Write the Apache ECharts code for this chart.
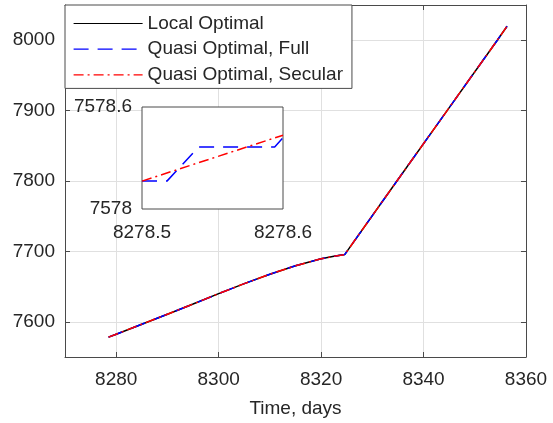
<!DOCTYPE html>
<html><head><meta charset="utf-8">
<script src="https://cdn.jsdelivr.net/npm/echarts@6/dist/echarts.min.js"></script>
<style>html,body{margin:0;padding:0;background:#fff}#c{width:553px;height:423px}</style>
</head><body><div id="c"></div>
<script>
// ---- data ----
const xTicks = [8280, 8300, 8320, 8340, 8360];
const yTicks = [7600, 7700, 7800, 7900, 8000];
const timeDays = [8278.5, 8280, 8285, 8290, 8295, 8300, 8305, 8310, 8315, 8320, 8322.5, 8324.6, 8334.8, 8344.6, 8354.4, 8356.3];
const localOptimal = [7578.2, 7582.4, 7596.6, 7610.8, 7625.2, 7640, 7654.2, 7667.6, 7679.6, 7689.5, 7693, 7695.5, 7800, 7900, 8000, 8019.8];
const quasiFull    = [7578.2, 7582.4, 7596.6, 7610.8, 7625.2, 7640, 7654.2, 7667.6, 7679.6, 7689.5, 7693, 7695.5, 7800, 7900, 8000, 8019.8];
const quasiSecular = [7578.2, 7582.4, 7596.6, 7610.8, 7625.2, 7640, 7654.2, 7667.6, 7679.6, 7689.5, 7693, 7695.5, 7800, 7900, 8000, 8019.8];
const insetFullX = [8278.5, 8278.5177, 8278.5402, 8278.5941, 8278.6];
const insetFullY = [7578.164, 7578.164, 7578.365, 7578.365, 7578.42];
const insetSecularX = [8278.5, 8278.6];
const insetSecularY = [7578.164, 7578.434];
const insetXTicks = [8278.5, 8278.6];
const insetXTickLabels = ['8278.5', '8278.6'];
const insetYTicks = [7578, 7578.6];
const insetYTickLabels = ['7578', '7578.6'];
const seriesNames = ['Local Optimal', 'Quasi Optimal, Full', 'Quasi Optimal, Secular'];

// ---- styling ----
const FONT = 'Liberation Sans, Arial, sans-serif';
const TXT = '#262626';
const AX = '#4a4a4a';
const FS = 19;
const pair = (xs, ys) => xs.map((x, i) => [x, ys[i]]);
const labelOf = (ticks, labels) => v => {
  let k = 0, best = Infinity;
  ticks.forEach((t, i) => { const d = Math.abs(t - v); if (d < best) { best = d; k = i; } });
  return labels[k];
};
const plain = v => String(Math.round(v));

const chart = echarts.init(document.getElementById('c'), null, {renderer: 'canvas'});
const mainAxisCommon = {
  axisLine: {show: true, onZero: false, lineStyle: {color: AX, width: 1}},
};
chart.setOption({
  animation: false,
  backgroundColor: '#fff',
  textStyle: {fontFamily: FONT},
  grid: [
    {left: 65, right: 27, top: 5, bottom: 64, containLabel: false},
    {left: 142, top: 107, width: 141, height: 102, show: true, backgroundColor: '#fff',
     borderColor: AX, borderWidth: 1, z: 3}
  ],
  legend: {
    data: seriesNames, orient: 'vertical', left: 65, top: 5,
    padding: [9, 9, 4, 8], itemWidth: 69, itemHeight: 20, itemGap: 6.7,
    borderColor: AX, borderWidth: 1, backgroundColor: '#fff', borderRadius: 0,
    itemStyle: {color: 'rgba(0,0,0,0)', borderWidth: 0, opacity: 0},
    lineStyle: {width: 1.2},
    textStyle: {fontSize: FS, color: TXT, fontFamily: FONT}, z: 10
  },
  xAxis: [
    Object.assign({}, mainAxisCommon, {
      type: 'value', gridIndex: 0, position: 'bottom', min: 8270, max: 8360,
      axisTick: {show: true, inside: true, length: 5, lineStyle: {color: AX}, customValues: xTicks},
      axisLabel: {customValues: xTicks, formatter: plain, fontSize: FS, color: TXT, fontFamily: FONT, margin: 13},
      splitLine: {show: true, lineStyle: {color: '#e0e0e0', width: 1}},
      name: 'Time, days', nameLocation: 'middle', nameGap: 42,
      nameTextStyle: {fontSize: FS, color: TXT, fontFamily: FONT}
    }),
    Object.assign({}, mainAxisCommon, {
      type: 'value', gridIndex: 0, position: 'top', min: 8270, max: 8360,
      axisTick: {show: true, inside: true, length: 5, lineStyle: {color: AX}, customValues: xTicks},
      axisLabel: {show: false}, splitLine: {show: false}
    }),
    {type: 'value', gridIndex: 1, min: 8278.5, max: 8278.6, z: 4,
     axisLine: {show: false}, axisTick: {show: false}, splitLine: {show: false},
     axisLabel: {customValues: insetXTicks, formatter: labelOf(insetXTicks, insetXTickLabels),
                 fontSize: FS, color: TXT, fontFamily: FONT, margin: 14}}
  ],
  yAxis: [
    Object.assign({}, mainAxisCommon, {
      type: 'value', gridIndex: 0, position: 'left', min: 7550, max: 8050,
      axisTick: {show: true, inside: true, length: 5, lineStyle: {color: AX}, customValues: yTicks},
      axisLabel: {customValues: yTicks, formatter: plain, fontSize: FS, color: TXT, fontFamily: FONT, margin: 10},
      splitLine: {show: true, lineStyle: {color: '#e0e0e0', width: 1}}
    }),
    Object.assign({}, mainAxisCommon, {
      type: 'value', gridIndex: 0, position: 'right', min: 7550, max: 8050,
      axisTick: {show: true, inside: true, length: 5, lineStyle: {color: AX}, customValues: yTicks},
      axisLabel: {show: false}, splitLine: {show: false}
    }),
    {type: 'value', gridIndex: 1, min: 7578, max: 7578.6, z: 4,
     axisLine: {show: false}, axisTick: {show: false}, splitLine: {show: false},
     axisLabel: {customValues: insetYTicks, formatter: labelOf(insetYTicks, insetYTickLabels),
                 fontSize: FS, color: TXT, fontFamily: FONT, margin: 10}}
  ],
  series: [
    {name: seriesNames[0], type: 'line', xAxisIndex: 0, yAxisIndex: 0, data: pair(timeDays, localOptimal),
     symbol: 'none', lineStyle: {color: '#000', width: 1.5, type: 'solid'}, itemStyle: {color: '#000'}, z: 2},
    {name: seriesNames[1], type: 'line', xAxisIndex: 0, yAxisIndex: 0, data: pair(timeDays, quasiFull),
     symbol: 'none', lineStyle: {color: '#0000ff', width: 1.5, type: [15, 9]}, itemStyle: {color: '#0000ff'}, z: 2},
    {name: seriesNames[2], type: 'line', xAxisIndex: 0, yAxisIndex: 0, data: pair(timeDays, quasiSecular),
     symbol: 'none', lineStyle: {color: '#ff0000', width: 1.5, type: [10, 4, 2, 4]}, itemStyle: {color: '#ff0000'}, z: 2},
    {name: 'inset-full', type: 'line', xAxisIndex: 2, yAxisIndex: 2, data: pair(insetFullX, insetFullY),
     symbol: 'none', lineStyle: {color: '#0000ff', width: 1.5, type: [15, 9]}, z: 5},
    {name: 'inset-secular', type: 'line', xAxisIndex: 2, yAxisIndex: 2, data: pair(insetSecularX, insetSecularY),
     symbol: 'none', lineStyle: {color: '#ff0000', width: 1.5, type: [10, 4, 2, 4]}, z: 5}
  ]
});
</script></body></html>
